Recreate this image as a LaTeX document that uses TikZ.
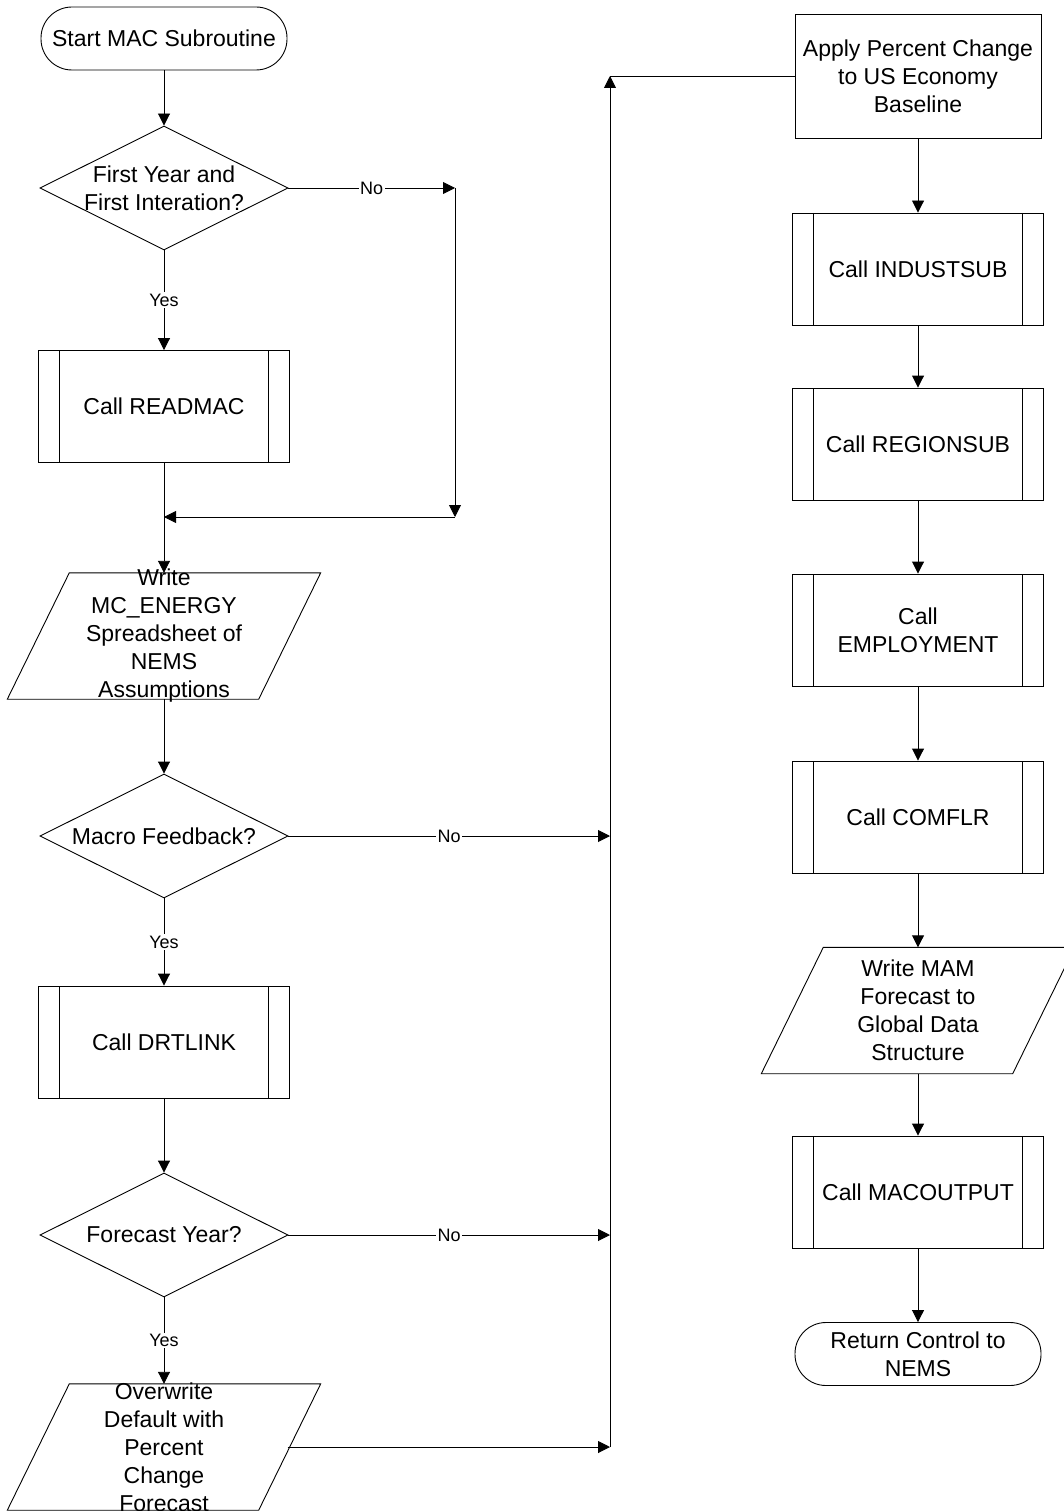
\documentclass[tikz,border=0pt]{standalone}
\usepackage{fontspec}
\setmainfont{Liberation Sans}
\usetikzlibrary{shapes.geometric,arrows.meta}
\tikzset{
  shapeline/.style={draw=black, line width=0.9pt},
  maintext/.style={font=\fontsize{23}{28}\selectfont, align=center},
  terminal/.style={shapeline, maintext, rectangle, rounded corners=31pt, minimum width=246pt, minimum height=63pt, inner sep=0pt},
  procbox/.style={shapeline, maintext, rectangle, minimum width=246pt, minimum height=124pt, inner sep=0pt},
  subproc/.style={shapeline, maintext, rectangle, minimum width=251pt, minimum height=112pt, inner sep=0pt,
    path picture={\draw[line width=0.9pt] ([xshift=21pt]path picture bounding box.north west) -- ([xshift=21pt]path picture bounding box.south west)
      ([xshift=-21pt]path picture bounding box.north east) -- ([xshift=-21pt]path picture bounding box.south east);}},
  decision/.style={shapeline, diamond, minimum width=248pt, minimum height=124pt, inner sep=0pt},
  iobox/.style={rectangle, minimum width=313pt, minimum height=126pt, inner sep=0pt},
  conn/.style={line width=0.9pt, draw=black},
  arr/.style={conn, -{Triangle[length=12pt,width=12pt]}},
  lab/.style={font=\fontsize{18}{21}\selectfont, fill=white, inner sep=1.5pt}
}
\begin{document}
\begin{tikzpicture}[x=1pt,y=-1pt]
\useasboundingbox (0,0) rectangle (1064,1511);
\clip (0,0) rectangle (1064,1511);
\fill[white] (0,0) rectangle (1064,1511);

% left column
\node[terminal] (start) at (164,38.5) {Start MAC Subroutine};
\node[decision] (d1) at (164,188) {};
\node[maintext] (d1t) at (164,188) {First Year and\\First Interation?};
\node[subproc] (readmac) at (164,406.5) {Call READMAC};
\node[iobox] (p1) at (164,636) {};
\draw[shapeline] ([xshift=62pt]p1.north west) -- (p1.north east) -- ([xshift=-62pt]p1.south east) -- (p1.south west) -- cycle;
\node[maintext] (p1t) at (164,636) {Write\\MC\_ENERGY\\Spreadsheet of\\NEMS\\Assumptions};
\node[decision] (d2) at (164,836) {};
\node[maintext] (d2t) at (164,836) {Macro Feedback?};
\node[subproc] (drtlink) at (164,1042) {Call DRTLINK};
\node[decision] (d3) at (164,1235) {};
\node[maintext] (d3t) at (164,1235) {Forecast Year?};
\node[iobox] (p2) at (164,1447) {};
\draw[shapeline] ([xshift=62pt]p2.north west) -- (p2.north east) -- ([xshift=-62pt]p2.south east) -- (p2.south west) -- cycle;
\node[maintext] (p2t) at (164,1447) {Overwrite\\Default with\\Percent\\Change\\Forecast};

% right column
\node[procbox] (apply) at (918,76) {Apply Percent Change\\to US Economy\\Baseline};
\node[subproc] (indust) at (918,269) {Call INDUSTSUB};
\node[subproc] (region) at (918,444) {Call REGIONSUB};
\node[subproc] (employ) at (918,630) {Call\\EMPLOYMENT};
\node[subproc] (comflr) at (918,817) {Call COMFLR};
\node[iobox] (p3) at (918,1010.5) {};
\draw[shapeline] ([xshift=62pt]p3.north west) -- (p3.north east) -- ([xshift=-62pt]p3.south east) -- (p3.south west) -- cycle;
\node[maintext] (p3t) at (918,1010.5) {Write MAM\\Forecast to\\Global Data\\Structure};
\node[subproc] (macout) at (918,1192) {Call MACOUTPUT};
\node[terminal] (ret) at (918,1354) {Return Control to\\NEMS};

% helper coordinates
\coordinate (c1) at (455,188);
\coordinate (c2) at (455,517);
\coordinate (j1) at (164,517);
\coordinate (t1) at (610,836);
\coordinate (t2) at (610,1235);
\coordinate (t3) at (610,1447);
\coordinate (tc) at (610,76);

% left connectors
\draw[arr] (start.south) -- (d1.north);
\draw[arr] (d1.east) -- node[lab] (no1) {No} (c1);
\draw[arr] (c1) -- (c2);
\draw[arr] (c2) -- (j1);
\draw[arr] (d1.south) -- node[lab] (yes1) {Yes} (readmac.north);
\draw[arr] (readmac.south) -- (p1.north);
\draw[arr] (p1.south) -- (d2.north);
\draw[arr] (d2.east) -- node[lab] (no2) {No} (t1);
\draw[arr] (d2.south) -- node[lab] (yes2) {Yes} (drtlink.north);
\draw[arr] (drtlink.south) -- (d3.north);
\draw[arr] (d3.east) -- node[lab] (no3) {No} (t2);
\draw[arr] (d3.south) -- node[lab] (yes3) {Yes} (p2.north);
\draw[arr] ([xshift=-33pt]p2.east) -- (t3);
\draw[arr] (t3) -- (tc);
\draw[conn] (tc) -- (apply.west);

% right connectors
\draw[arr] (apply.south) -- (indust.north);
\draw[arr] (indust.south) -- (region.north);
\draw[arr] (region.south) -- (employ.north);
\draw[arr] (employ.south) -- (comflr.north);
\draw[arr] (comflr.south) -- (p3.north);
\draw[arr] (p3.south) -- (macout.north);
\draw[arr] (macout.south) -- (ret.north);
\end{tikzpicture}
\end{document}
